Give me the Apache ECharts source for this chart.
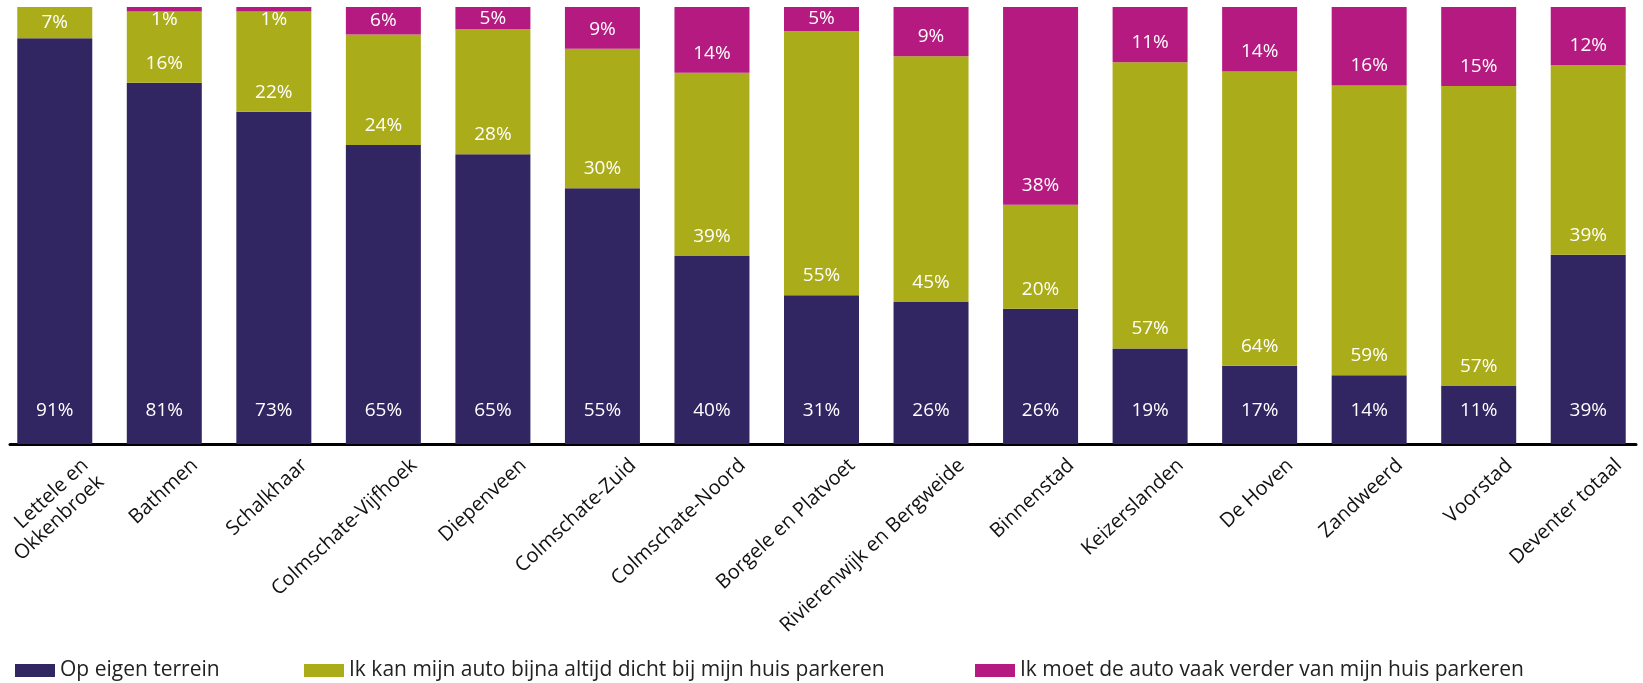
<!DOCTYPE html>
<html>
<head>
<meta charset="utf-8">
<script src="https://cdn.jsdelivr.net/npm/echarts@6/dist/echarts.min.js"></script>
<style>
    html, body { margin: 0; padding: 0; background: #fff; }
    #chart { width: 1643px; height: 683px; }
</style>
</head>
<body>
<div id="chart"></div>
<script>
var wijken = ['Lettele en\nOkkenbroek', 'Bathmen', 'Schalkhaar', 'Colmschate-Vijfhoek', 'Diepenveen',
    'Colmschate-Zuid', 'Colmschate-Noord', 'Borgele en Platvoet', 'Rivierenwijk en Bergweide', 'Binnenstad',
    'Keizerslanden', 'De Hoven', 'Zandweerd', 'Voorstad', 'Deventer totaal'];
var eigenTerrein = [91, 81, 73, 65, 65, 55, 40, 31, 26, 26, 19, 17, 14, 11, 39];
var dichtBij =     [7, 16, 22, 24, 28, 30, 39, 55, 45, 20, 57, 64, 59, 57, 39];
var verderWeg =    [0, 1, 1, 6, 5, 9, 14, 5, 9, 38, 11, 14, 16, 15, 12];
var namen = ['Op eigen terrein',
    'Ik kan mijn auto bijna altijd dicht bij mijn huis parkeren',
    'Ik moet de auto vaak verder van mijn huis parkeren'];
var kleuren = ['#312562', '#abac19', '#b51a80'];

var font = 'Open Sans';
var reeksen = [eigenTerrein, dichtBij, verderWeg];

// 100% gestapeld: aandeel per wijk, label toont het gemeten percentage
function aandelen(arr) {
    return arr.map(function (v, i) {
        var totaal = eigenTerrein[i] + dichtBij[i] + verderWeg[i];
        var share = v / totaal * 100;
        if (v > 0 && share < 3) {
            return { value: share, label: { position: 'bottom', distance: -1 } };
        }
        if (v > 0 && share < 8) {
            return { value: share, label: { position: 'inside' } };
        }
        return share;
    });
}

var series = reeksen.map(function (arr, k) {
    return {
        name: namen[k],
        type: 'bar',
        stack: 'totaal',
        barWidth: 75,
        itemStyle: { color: kleuren[k] },
        label: {
            show: true,
            position: 'insideBottom',
            distance: k == 0 ? 24 : 10,
            color: '#fff',
            fontFamily: font,
            fontSize: 19,
            formatter: function (p) {
                return arr[p.dataIndex] > 0 ? arr[p.dataIndex] + '%' : '';
            }
        },
        data: aandelen(arr)
    };
});

var legendLeft = [10, 299, 970];
var legends = namen.map(function (n, k) {
    return {
        data: [n],
        left: legendLeft[k],
        top: 655,
        icon: 'rect',
        itemWidth: 40,
        itemHeight: 13,
        itemGap: 10,
        selectedMode: false,
        textStyle: { fontFamily: font, fontSize: 21, color: '#222' }
    };
});

var myChart = echarts.init(document.getElementById('chart'));
var option = {
    animation: false,
    legend: legends,
    grid: [
        { left: 0, right: 0, top: 7, bottom: 239, outerBoundsMode: 'none' },
        { left: 10, right: 7, top: 7, bottom: 239, outerBoundsMode: 'none' }
    ],
    xAxis: [
        {
            type: 'category',
            data: wijken,
            gridIndex: 0,
            axisLine: { show: false },
            axisTick: { show: false },
            axisLabel: {
                interval: 0,
                rotate: 43,
                margin: 12,
                verticalAlign: 'top',
                padding: [14, -18, 0, 0],
                color: '#111',
                fontFamily: font,
                fontSize: 20,
                lineHeight: 23
            }
        },
        {
            type: 'value',
            gridIndex: 1,
            axisLine: { show: true, onZero: false, lineStyle: { color: '#000', width: 3 } },
            axisTick: { show: false },
            axisLabel: { show: false },
            splitLine: { show: false }
        }
    ],
    yAxis: [
        { type: 'value', gridIndex: 0, min: 0, max: 100, show: false },
        { type: 'value', gridIndex: 1, show: false }
    ],
    series: series
};
myChart.setOption(option);
</script>
</body>
</html>
